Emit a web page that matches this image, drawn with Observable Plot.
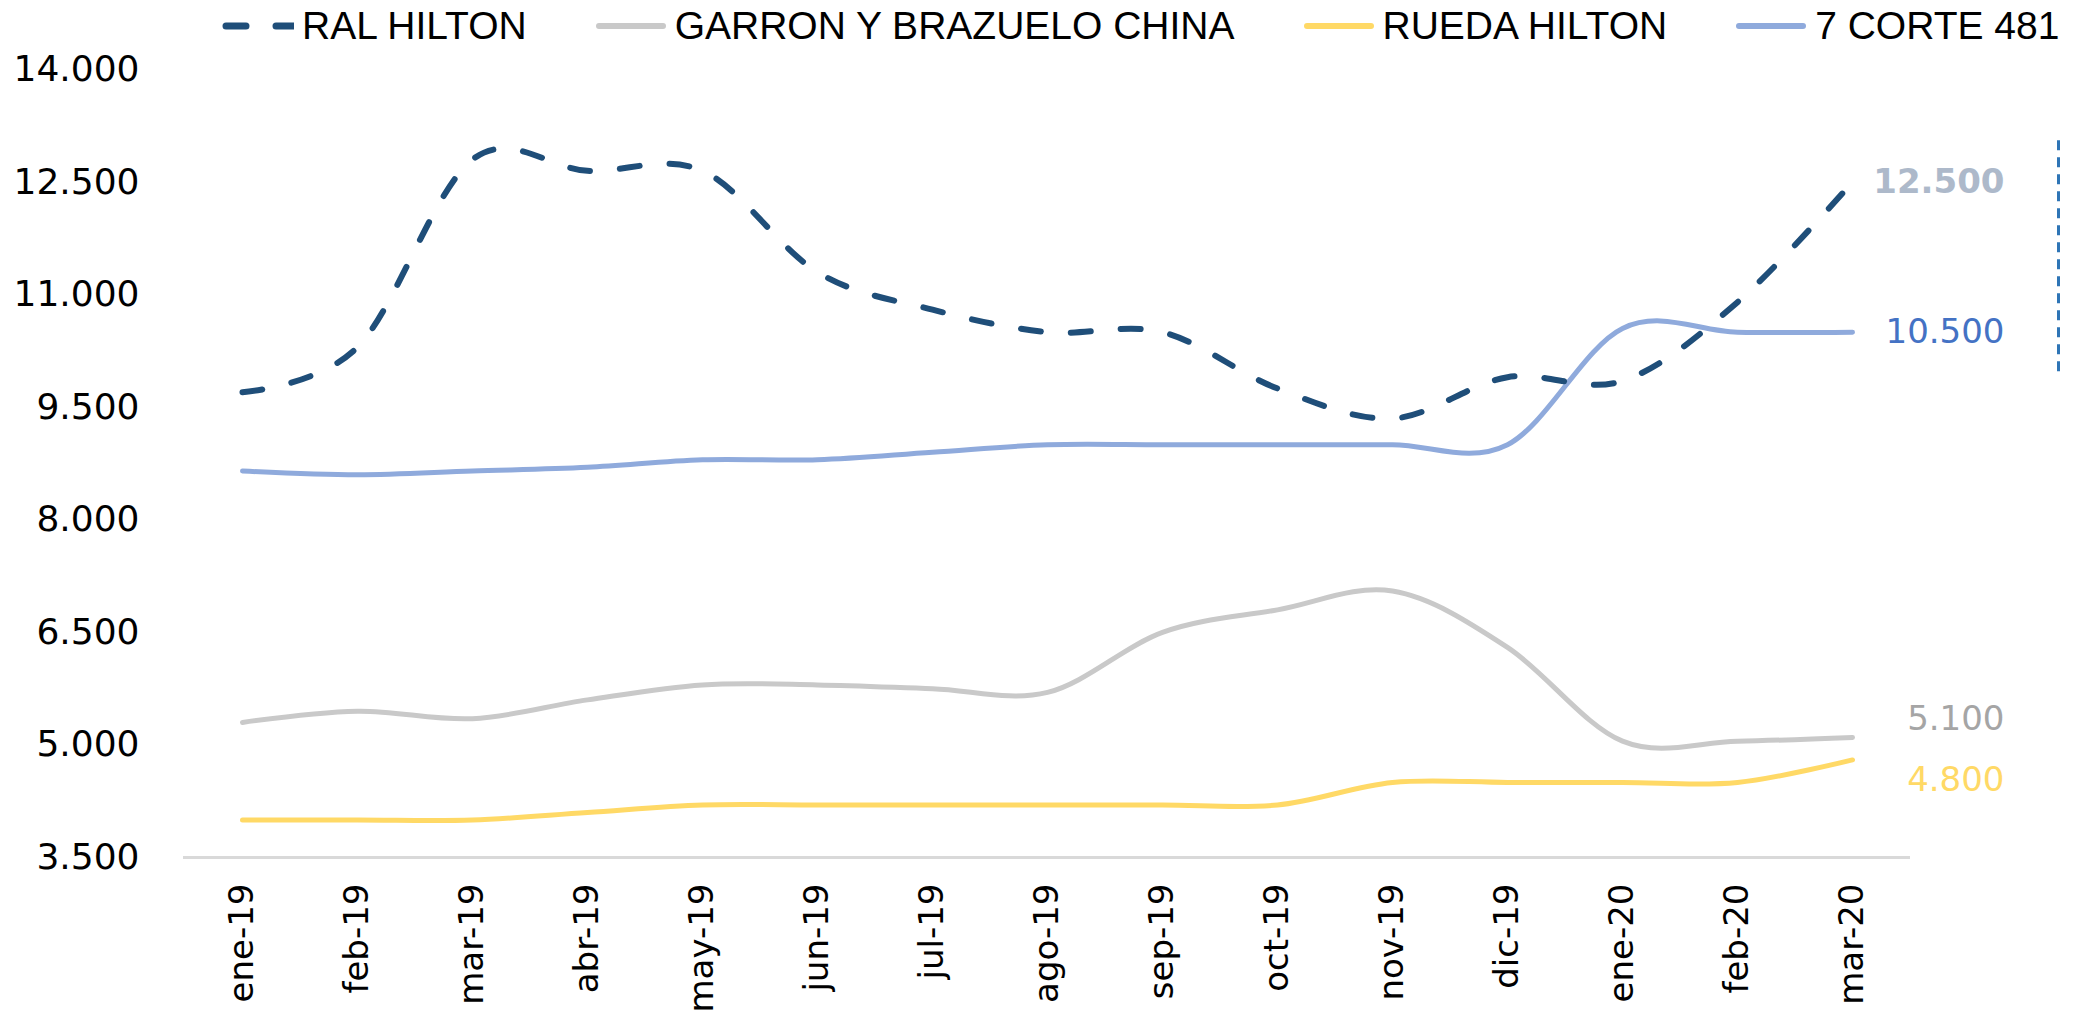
<!DOCTYPE html>
<html><head><meta charset="utf-8">
<script src="https://cdn.jsdelivr.net/npm/d3@7"></script>
<script src="https://cdn.jsdelivr.net/npm/@observablehq/plot@0.6"></script>
<style>
html,body{margin:0;padding:0;background:#fff;}
#wrap{position:relative;width:2078px;height:1014px;overflow:hidden;}
#legend{position:absolute;left:222px;top:4px;display:flex;align-items:center;font-family:"Liberation Sans",Arial,sans-serif;font-size:39px;color:#000;white-space:nowrap;z-index:2;}
.item{display:flex;align-items:center;margin-right:68px;}
.item:last-child{margin-right:0;}
.item svg{margin-right:8px;}
</style></head><body><div id="wrap"><div id="legend"></div><div id="chart"></div></div>
<script>
const months = ["ene-19","feb-19","mar-19","abr-19","may-19","jun-19","jul-19","ago-19","sep-19","oct-19","nov-19","dic-19","ene-20","feb-20","mar-20"];
const ralHilton   = [9700,10300,12800,12650,12650,11300,10800,10500,10500,9750,9350,9900,9850,10900,12500];
const garronChina = [5300,5450,5350,5600,5800,5800,5750,5700,6500,6800,7050,6300,5050,5050,5100];
const ruedaHilton = [4000,4000,4000,4100,4200,4200,4200,4200,4200,4200,4500,4500,4500,4500,4800];
const corte481    = [8650,8600,8650,8700,8800,8800,8900,9000,9000,9000,9000,9000,10550,10500,10500];
const seriesNames = ["RAL HILTON","GARRON Y BRAZUELO CHINA","RUEDA HILTON","7 CORTE 481"];
const yTicks = [3500,5000,6500,8000,9500,11000,12500,14000];
const bracketRange = [13050, 9900];

const fmt = d => d3.format(",")(d).replace(/,/g, ".");

const seriesDefs = [
  {name: seriesNames[0], values: ralHilton,   stroke: "#1F4E79", dash: "20,30", width: 6, label: {fill: "#ADB9CA", weight: "bold", dy: 0}},
  {name: seriesNames[1], values: garronChina, stroke: "#C9C9C9", dash: null,    width: 5, label: {fill: "#A5A5A5", weight: "normal", dy: -18}},
  {name: seriesNames[2], values: ruedaHilton, stroke: "#FFD966", dash: null,    width: 5, label: {fill: "#FFD966", weight: "normal", dy: 20}},
  {name: seriesNames[3], values: corte481,    stroke: "#8FAADC", dash: null,    width: 5, label: {fill: "#4472C4", weight: "normal", dy: 0}}
];

const rows = s => months.map((m, i) => ({month: m, value: s.values[i], series: s.name}));

// legend
const legend = document.getElementById("legend");
for (const s of seriesDefs) {
  const item = document.createElement("div");
  item.className = "item";
  const dashAttr = s.dash ? `stroke-dasharray="20,30"` : "";
  item.innerHTML = `<svg width="72" height="14"><line x1="4" y1="7" x2="${s.dash ? 76 : 68}" y2="7" stroke="${s.stroke}" stroke-width="${s.dash ? 7 : 6}" stroke-linecap="round" ${dashAttr}/></svg><span>${s.name}</span>`;
  legend.appendChild(item);
}

const marks = [
  Plot.ruleY([3500], {stroke: "#D9D9D9", strokeWidth: 3}),
  Plot.axisY({ticks: yTicks, tickSize: 0, tickPadding: 44, tickFormat: fmt, fontSize: 36, label: null}),
  Plot.axisX({tickSize: 0, tickRotate: -90, tickPadding: 26, fontSize: 34, label: null})
];
for (const s of [seriesDefs[1], seriesDefs[2], seriesDefs[3], seriesDefs[0]]) {
  marks.push(Plot.line(rows(s), {
    x: "month", y: "value", stroke: s.stroke, strokeWidth: s.width,
    curve: "cardinal", strokeLinecap: "round", strokeLinejoin: "round",
    strokeDasharray: s.dash || undefined
  }));
}
for (const s of seriesDefs) {
  const last = rows(s)[months.length - 1];
  marks.push(Plot.text([last], {
    x: "month", y: "value", text: d => fmt(d.value),
    fill: s.label.fill, fontWeight: s.label.weight, fontSize: 34,
    textAnchor: "end", dx: 152, dy: s.label.dy
  }));
}
marks.push(Plot.ruleX([months[months.length - 1]], {
  x: d => d, y1: bracketRange[0], y2: bracketRange[1], dx: 206,
  stroke: "#2E75B6", strokeWidth: 3, strokeDasharray: "10,7"
}));

const chart = Plot.plot({
  width: 2078, height: 1014,
  marginLeft: 183, marginRight: 168, marginTop: 69, marginBottom: 157,
  style: {fontFamily: "DejaVu Sans", background: "white", color: "#000", overflow: "visible"},
  x: {type: "point", domain: months, padding: 0.5},
  y: {domain: [3500, 14000]},
  marks
});
document.getElementById("chart").appendChild(chart);
</script>
</body></html>
